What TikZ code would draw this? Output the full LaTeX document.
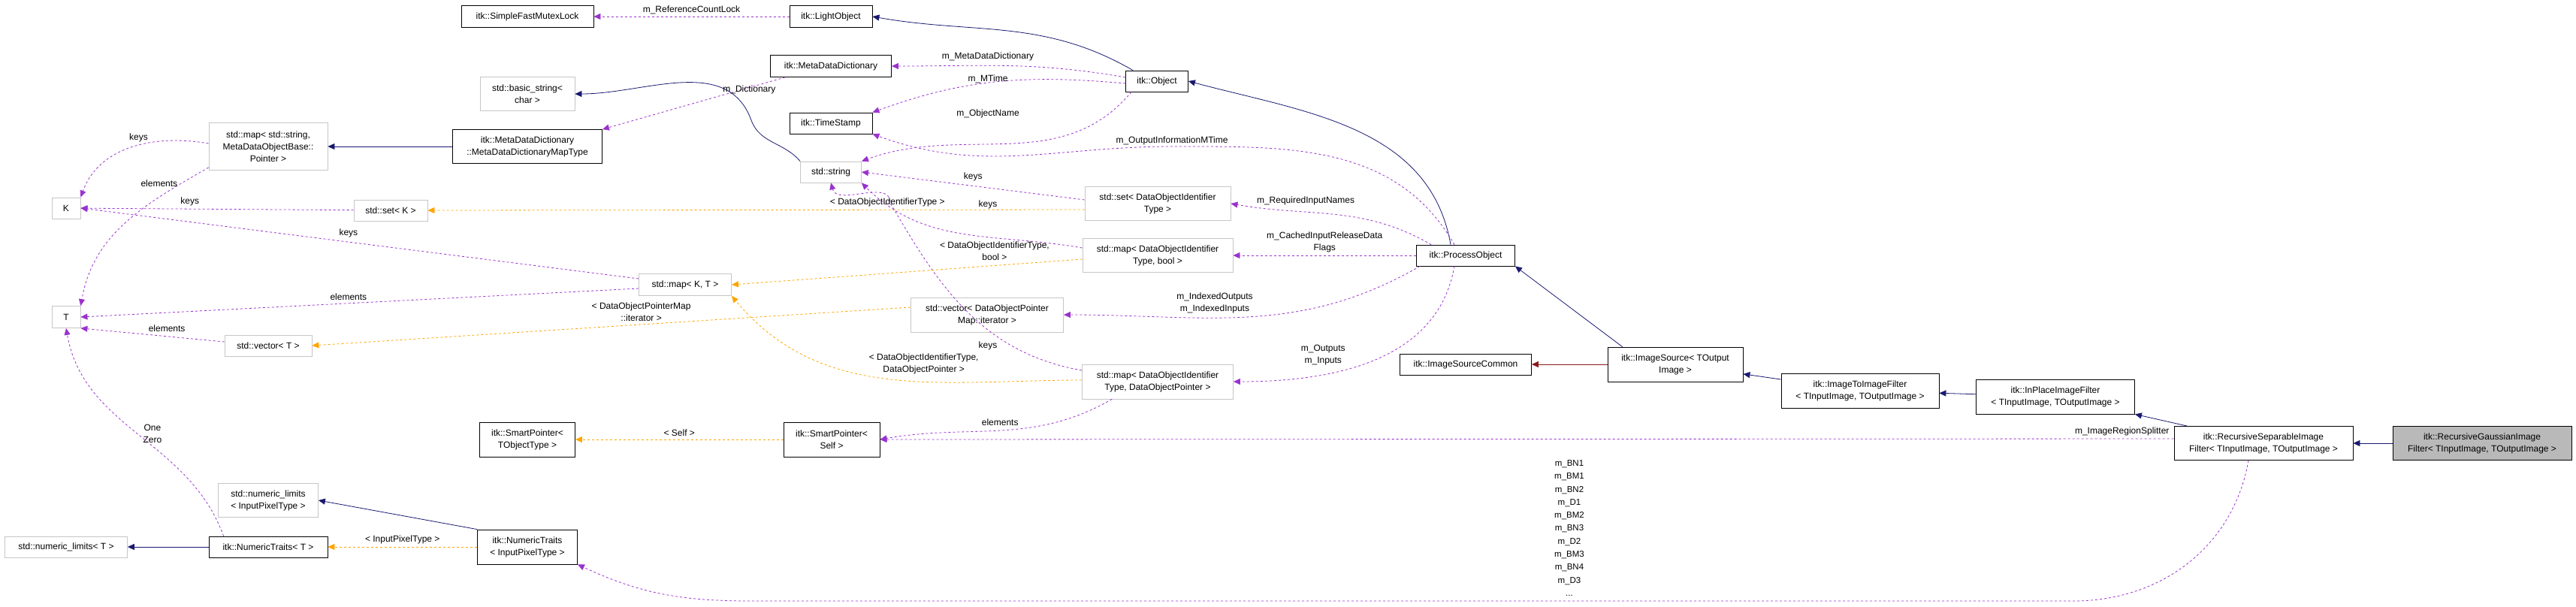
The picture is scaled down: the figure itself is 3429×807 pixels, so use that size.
\documentclass[tikz,border=0pt]{standalone}
\usepackage{fontspec}
\setmainfont{Liberation Sans}
\usetikzlibrary{arrows.meta}
\definecolor{usecol}{HTML}{9A32CD}
\definecolor{tplcol}{HTML}{FFA500}
\definecolor{inhcol}{HTML}{191970}
\definecolor{protcol}{HTML}{8B1A1A}

\begin{document}
\begin{tikzpicture}[x=1pt,y=-1pt,font=\fontsize{12}{16}\selectfont,
    box/.style n args={2}{draw,thick,align=center,inner sep=1pt,minimum width=#1,minimum height=#2},
    ext/.style={draw=gray!45},
    usage/.style={draw=usecol,thick,dashed,-{Triangle[length=9pt,width=8pt]}},
    tmpl/.style={draw=tplcol,thick,dashed,-{Triangle[length=9pt,width=8pt]}},
    inh/.style={draw=inhcol,thick,-{Triangle[length=9pt,width=8pt]}},
    prot/.style={draw=protcol,thick,-{Triangle[length=9pt,width=8pt]}},
    lbl/.style={inner sep=0pt,align=center}]
		\useasboundingbox (0,0) rectangle (3429,807);
		
		% Classes
		\node[box={176}{29}] (mutex) at (702,22) {itk::SimpleFastMutexLock};
		\node[box={110}{29}] (light) at (1106,22) {itk::LightObject};
		\node[box={161}{29}] (mdd) at (1106,88) {itk::MetaDataDictionary};
		\node[box={126}{45},ext] (bstr) at (702,125) {std::basic\_string\textless\\char \textgreater};
		\node[box={199}{45}] (mapt) at (702,195) {itk::MetaDataDictionary\\::MetaDataDictionaryMapType};
		\node[box={158}{63},ext] (smap) at (357,195) {std::map\textless{} std::string,\\MetaDataObjectBase::\\Pointer \textgreater};
		\node[box={38}{28},ext] (K) at (88,277) {K};
		\node[box={98}{28},ext] (setk) at (520,280) {std::set\textless{} K \textgreater};
		\node[box={81}{28},ext] (str) at (1106,229) {std::string};
		\node[box={110}{28}] (tstamp) at (1106,164) {itk::TimeStamp};
		\node[box={83}{28}] (obj) at (1540,108) {itk::Object};
		\node[box={194}{45},ext] (setid) at (1541,271) {std::set\textless{} DataObjectIdentifier\\Type \textgreater};
		\node[box={200}{45},ext] (mapb) at (1541,340) {std::map\textless{} DataObjectIdentifier\\Type, bool \textgreater};
		\node[box={131}{28}] (proc) at (1951,340) {itk::ProcessObject};
		\node[box={123}{29},ext] (mapkt) at (912,379) {std::map\textless{} K, T \textgreater};
		\node[box={203}{46},ext] (vecit) at (1314,419) {std::vector\textless{} DataObjectPointer\\Map::iterator \textgreater};
		\node[box={201}{46},ext] (mapp) at (1541,508) {std::map\textless{} DataObjectIdentifier\\Type, DataObjectPointer \textgreater};
		\node[box={128}{46}] (spself) at (1107,585) {itk::SmartPointer\textless\\Self \textgreater};
		\node[box={175}{28}] (iscommon) at (1951,485) {itk::ImageSourceCommon};
		\node[box={38}{29},ext] (T) at (88,422) {T};
		\node[box={116}{28},ext] (vect) at (357,460) {std::vector\textless{} T \textgreater};
		\node[box={127}{46}] (spobj) at (702,585) {itk::SmartPointer\textless\\TObjectType \textgreater};
		\node[box={133}{45},ext] (nlip) at (357,666) {std::numeric\_limits\\\textless{} InputPixelType \textgreater};
		\node[box={163}{28},ext] (nlt) at (88,728) {std::numeric\_limits\textless{} T \textgreater};
		\node[box={158}{28}] (ntt) at (357,728) {itk::NumericTraits\textless{} T \textgreater};
		\node[box={133}{46}] (ntip) at (702,728) {itk::NumericTraits\\\textless{} InputPixelType \textgreater};
		\node[box={180}{46}] (isrc) at (2230,485) {itk::ImageSource\textless{} TOutput\\Image \textgreater};
		\node[box={210}{46}] (i2i) at (2476,520) {itk::ImageToImageFilter\\\textless{} TInputImage, TOutputImage \textgreater};
		\node[box={211}{46}] (inpl) at (2736,528) {itk::InPlaceImageFilter\\\textless{} TInputImage, TOutputImage \textgreater};
		\node[box={238}{45}] (rsep) at (3013,590) {itk::RecursiveSeparableImage\\Filter\textless{} TInputImage, TOutputImage \textgreater};
		\node[box={238}{45},fill=gray!55] (rgau) at (3304,590) {itk::RecursiveGaussianImage\\Filter\textless{} TInputImage, TOutputImage \textgreater};
		
		% Inheritance
		\draw[inh] (obj.north west) ++(10,0) to[out=150,in=-10] (light.east);
		\draw[inh] (proc.north) ++(-20,0) to[out=100,in=-15] (obj.east);
		\draw[inh] (str.north west) to[out=130,in=-70] (1000,160) to[out=110,in=0] (bstr.east);
		\draw[inh] (mapt) -- (smap);
		\draw[inh] (isrc.north west) ++(20,0) -- (proc.south east);
		\draw[prot] (isrc) -- (iscommon);
		\draw[inh] (i2i) -- (isrc);
		\draw[inh] (inpl) -- (i2i);
		\draw[inh] (rsep.north west) ++(18,0) -- (inpl.south east);
		\draw[inh] (rgau) -- (rsep);
		\draw[inh] (ntt) -- (nlt);
		\draw[inh] (ntip.north west) -- (nlip.east);
		
		% Members
		\draw[usage] (light) -- node[lbl,above=3pt] {m\_ReferenceCountLock} (mutex);
		\draw[usage] (obj.west) ++(0,-5) to[out=170,in=0] (mdd.east);
		\node[lbl] at (1315,75) {m\_MetaDataDictionary};
		\draw[usage] (obj.west) ++(0,3) to[out=175,in=20] (tstamp.north east);
		\node[lbl] at (1315,105) {m\_MTime};
		\draw[usage] (obj.south west) ++(8,0) to[out=-130,in=20] (str.north east);
		\node[lbl] at (1315,151) {m\_ObjectName};
		\draw[usage] (mdd.south west) ++(20,0) -- node[lbl,above right=2pt,pos=0.35] {m\_Dictionary} (mapt.north east);
		\draw[usage] (smap.west) ++(0,-4) to[out=170,in=70] node[lbl,above=4pt,pos=0.45] {keys} (K.north east);
		\draw[usage] (smap.south west) ++(0,-4) to[out=-150,in=80] node[lbl,left=4pt,pos=0.15] {elements} (T.north east);
		\draw[usage] (setk) -- node[lbl,above=4pt,pos=0.6] {keys} (K);
		\draw[usage] (mapkt.west) ++(0,-8) -- node[lbl,above=6pt,pos=0.52] {keys} (K.east);
		\draw[usage] (mapkt.west) ++(0,5) -- node[lbl,above=4pt,pos=0.52] {elements} (T.east);
		\draw[usage] (vect.west) ++(0,-5) -- node[lbl,above=6pt,pos=0.4] {elements} (T.south east);
		\draw[usage] (setid.west) ++(0,-5) -- node[lbl,above=6pt,pos=0.5] {keys} (str.east);
		\draw[usage] (mapb.west) ++(0,-10) to[out=170,in=-45] (str.south east);
		\draw[usage] (mapp.west) ++(0,-15) to[out=170,in=-60] (1185,270) to[out=90,in=-75] (str.south);
		\node[lbl] at (1315,460) {keys};
		\draw[usage] (mapp.south west) ++(40,0) to[out=-150,in=10] node[lbl,above=6pt,pos=0.5] {elements} (spself.east);
		\draw[usage] (proc.north) ++(-15,0) to[out=120,in=0] (1560,195) node[lbl,above=2pt] {m\_OutputInformationMTime} to[out=180,in=-20] (tstamp.south east);
		\draw[usage] (proc.north west) ++(20,0) to[out=150,in=-10] node[lbl,above=8pt,pos=0.65] {m\_RequiredInputNames} (setid.east);
		\draw[usage] (proc) -- node[lbl,above=4pt] {m\_CachedInputReleaseData\\Flags} (mapb);
		\draw[usage] (proc.south west) ++(5,0) to[out=-150,in=0] node[lbl,above=6pt,pos=0.6] {m\_IndexedOutputs\\m\_IndexedInputs} (vecit.east);
		\draw[usage] (proc.south) ++(-15,0) to[out=-100,in=0] node[lbl,above left=4pt,pos=0.6] {m\_Outputs\\m\_Inputs} (mapp.east);
		\draw[usage] (rsep.west) ++(0,-6) -- node[lbl,above=4pt,pos=0.04] {m\_ImageRegionSplitter} (spself.east);
		\draw[usage] (rsep.south) ++(-20,0) to[out=-100,in=0] (2760,800) -- (1000,800) to[out=180,in=-25] (ntip.south east);
		\node[lbl,font=\fontsize{11.5}{17.3}\selectfont] at (2089,703) {m\_BN1\\m\_BM1\\m\_BN2\\m\_D1\\m\_BM2\\m\_BN3\\m\_D2\\m\_BM3\\m\_BN4\\m\_D3\\...};
		\draw[usage] (ntt.north west) ++(20,0) to[out=110,in=-80] node[lbl,right=6pt,pos=0.5] {One\\Zero} (T.south);
		
		% Template instances
		\draw[tmpl] (setid.west) ++(0,8) -- node[lbl,above=4pt,pos=0.3] {\textless{} DataObjectIdentifierType \textgreater} (setk.east);
		\node[lbl] at (1315,272) {keys};
		\draw[tmpl] (mapb.west) ++(0,5) -- node[lbl,above=6pt,pos=0.25] {\textless{} DataObjectIdentifierType,\\bool \textgreater} (mapkt.east);
		\draw[tmpl] (vecit.west) ++(0,-10) -- node[lbl,above=4pt,pos=0.45] {\textless{} DataObjectPointerMap\\::iterator \textgreater} (vect.east);
		\draw[tmpl] (mapp.west) ++(0,-2) to[out=180,in=-50] node[lbl,above=10pt,pos=0.4] {\textless{} DataObjectIdentifierType,\\DataObjectPointer \textgreater} (mapkt.south east);
		\draw[tmpl] (spself) -- node[lbl,above=4pt] {\textless{} Self \textgreater} (spobj);
		\draw[tmpl] (ntip) -- node[lbl,above=4pt] {\textless{} InputPixelType \textgreater} (ntt);
	\end{tikzpicture}
\end{document}
